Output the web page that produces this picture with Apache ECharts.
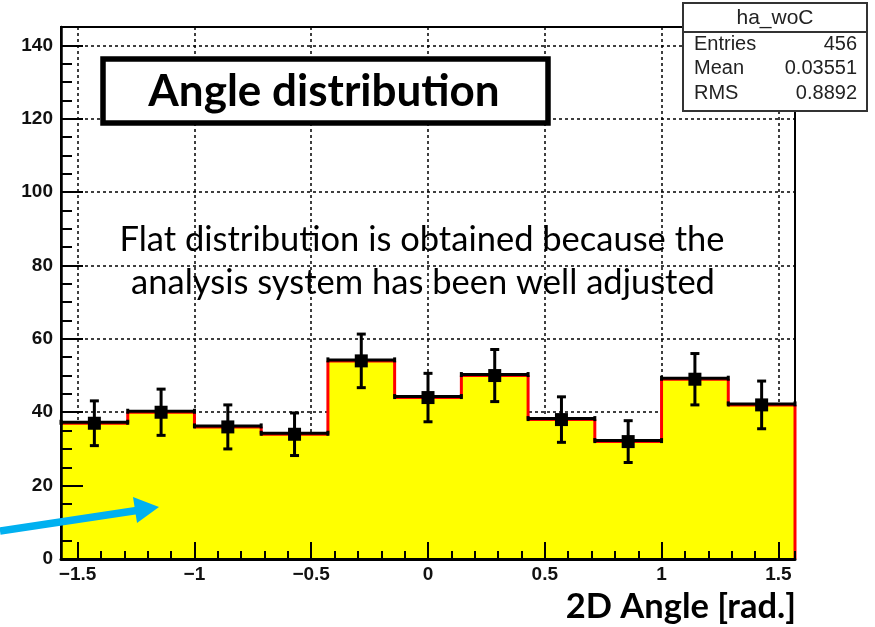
<!DOCTYPE html>
<html><head><meta charset="utf-8">
<script src="https://cdn.jsdelivr.net/npm/echarts@6/dist/echarts.min.js"></script>
<style>html,body{margin:0;padding:0;background:#fff}#c{width:875px;height:627px}</style>
</head><body><div id="c"></div>
<script>
// ---- data ----
const binEdges = [-1.5708, -1.2852, -0.9996, -0.7140, -0.4284, -0.1428, 0.1428, 0.4284, 0.7140, 0.9996, 1.2852, 1.5708];
const counts   = [37, 40, 36, 34, 54, 44, 50, 38, 32, 49, 42];
const errors   = [6.1, 6.3, 6.0, 5.8, 7.3, 6.6, 7.1, 6.2, 5.7, 7.0, 6.5];
const xMin = -1.5708, xMax = 1.5708;
const yMin = 0, yMax = 145, yMajor = 20, yMinor = 5;
const statsTitle = 'ha_woC';
const statsLabels = ['Entries', 'Mean', 'RMS'];
const statsValues = ['456', '0.03551', '0.8892'];
const boxTitle = 'Angle distribution';
const noteLines = ['Flat distribution is obtained because the', 'analysis system has been well adjusted'];
const xTitle = '2D Angle [rad.]';

// ---- build series data ----
const stepData = [];
for (let i = 0; i < counts.length; i++) stepData.push([binEdges[i], counts[i]]);
stepData.push([binEdges[counts.length], counts[counts.length - 1]]);
stepData.push([binEdges[counts.length], 0]);

const errData = counts.map((v, i) => [(binEdges[i] + binEdges[i + 1]) / 2, v, errors[i], binEdges[i], binEdges[i + 1]]);

function renderErr(params, api) {
  const xc = api.value(0), y = api.value(1), e = api.value(2), lo = api.value(3), hi = api.value(4);
  const pC = api.coord([xc, y]);
  const pL = api.coord([lo, y]);
  const pH = api.coord([hi, y]);
  const pT = api.coord([xc, y + e]);
  const pB = api.coord([xc, y - e]);
  const st = { stroke: '#000', lineWidth: 3 };
  const yy = pC[1] - 1;
  return {
    type: 'group', children: [
      { type: 'line', shape: { x1: pL[0], y1: yy, x2: pH[0], y2: yy }, style: st },
      { type: 'line', shape: { x1: pL[0], y1: yy - 2.5, x2: pL[0], y2: yy + 2.5 }, style: st },
      { type: 'line', shape: { x1: pH[0], y1: yy - 2.5, x2: pH[0], y2: yy + 2.5 }, style: st },
      { type: 'line', shape: { x1: pC[0], y1: pT[1], x2: pC[0], y2: pB[1] }, style: st },
      { type: 'line', shape: { x1: pC[0] - 4.5, y1: pT[1], x2: pC[0] + 4.5, y2: pT[1] }, style: st },
      { type: 'line', shape: { x1: pC[0] - 4.5, y1: pB[1], x2: pC[0] + 4.5, y2: pB[1] }, style: st },
      { type: 'rect', shape: { x: pC[0] - 6.5, y: pC[1] - 6.5, width: 13, height: 13 }, style: { fill: '#000' } }
    ]
  };
}

const minus = v => String(v).replace('-', '\u2212');
const labelFont = { fontFamily: 'Liberation Sans', fontSize: 19, fontWeight: 'bold', color: '#111' };
const gridDash = { color: '#000', width: 1.5, type: [3, 3] };
const hiddenLine = { show: false, onZero: false };

const chart = echarts.init(document.getElementById('c'), null, { renderer: 'canvas' });
chart.setOption({
  animation: false,
  backgroundColor: '#fff',
  grid: { left: 61, right: 80, top: 27, bottom: 68, show: true, borderColor: '#000', borderWidth: 2, backgroundColor: 'transparent' },
  xAxis: [
    { // major ticks + labels
      type: 'value', min: xMin, max: xMax, splitNumber: 6, position: 'bottom', z: 10,
      axisLine: { show: true, onZero: false, lineStyle: { color: '#000', width: 3 } },
      axisTick: { show: true, inside: true, length: 17, lineStyle: { color: '#000', width: 2 } },
      axisLabel: { show: true, margin: 6, showMinLabel: false, showMaxLabel: false, formatter: minus, ...labelFont },
      splitLine: { show: false }
    },
    { // minor ticks
      type: 'value', min: xMin, max: xMax, splitNumber: 31, position: 'bottom', z: 10,
      axisLine: hiddenLine, axisLabel: { show: false }, splitLine: { show: false },
      axisTick: { show: true, inside: true, length: 8, lineStyle: { color: '#000', width: 2 } }
    },
    { // grid lines
      type: 'value', min: xMin, max: xMax, splitNumber: 6, position: 'bottom', z: 0,
      axisLine: hiddenLine, axisLabel: { show: false }, axisTick: { show: false },
      splitLine: { show: true, lineStyle: gridDash }
    }
  ],
  yAxis: [
    {
      type: 'value', min: yMin, max: yMax, interval: yMajor, position: 'left', z: 10,
      axisLine: { show: true, onZero: false, lineStyle: { color: '#000', width: 2.5 } },
      axisTick: { show: true, inside: true, length: 22, lineStyle: { color: '#000', width: 2 } },
      axisLabel: { show: true, margin: 8, showMaxLabel: false, ...labelFont },
      splitLine: { show: false }
    },
    {
      type: 'value', min: yMin, max: yMax, interval: yMinor, position: 'left', z: 10,
      axisLine: hiddenLine, axisLabel: { show: false }, splitLine: { show: false },
      axisTick: { show: true, inside: true, length: 11, lineStyle: { color: '#000', width: 2 } }
    },
    {
      type: 'value', min: yMin, max: yMax, interval: yMajor, position: 'left', z: 0,
      axisLine: hiddenLine, axisLabel: { show: false }, axisTick: { show: false },
      splitLine: { show: true, lineStyle: gridDash }
    }
  ],
  series: [
    {
      type: 'line', xAxisIndex: 0, yAxisIndex: 0, data: stepData, step: 'end',
      symbol: 'none', z: 2,
      lineStyle: { color: '#ff0000', width: 3 },
      areaStyle: { color: '#ffff00', opacity: 1, origin: 'start' }
    },
    {
      type: 'custom', xAxisIndex: 0, yAxisIndex: 0, data: errData, renderItem: renderErr, z: 3,
      encode: { x: 0, y: 1 }
    }
  ],
  graphic: [
    // blue arrow
    { type: 'line', z: 100, shape: { x1: 0, y1: 531, x2: 140, y2: 510 }, style: { stroke: '#00b0f0', lineWidth: 7.5 } },
    { type: 'polygon', z: 100, shape: { points: [[159, 507], [133, 497], [137, 523]] }, style: { fill: '#00b0f0' } },
    // title box
    { type: 'rect', z: 100, shape: { x: 103, y: 59, width: 445, height: 64 }, style: { fill: '#fff', stroke: '#000', lineWidth: 5.5 } },
    { type: 'text', z: 101, x: 324, y: 92, style: { text: boxTitle, font: 'bold 44px Lato', fill: '#000', align: 'center', verticalAlign: 'middle', textAlign: 'center', textVerticalAlign: 'middle' } },
    // note
    { type: 'text', z: 101, x: 422, y: 240, style: { text: noteLines[0], font: '34.5px Lato', fill: '#000', align: 'center', verticalAlign: 'middle', textAlign: 'center', textVerticalAlign: 'middle' } },
    { type: 'text', z: 101, x: 423, y: 283, style: { text: noteLines[1], font: '34.5px Lato', fill: '#000', align: 'center', verticalAlign: 'middle', textAlign: 'center', textVerticalAlign: 'middle' } },
    // stats box
    { type: 'rect', z: 100, shape: { x: 683, y: 3, width: 184, height: 108 }, style: { fill: '#fff', stroke: '#333', lineWidth: 2 } },
    { type: 'line', z: 101, shape: { x1: 683, y1: 32, x2: 867, y2: 32 }, style: { stroke: '#333', lineWidth: 2 } },
    { type: 'text', z: 101, x: 775, y: 18, style: { text: statsTitle, font: '21px "Liberation Sans"', fill: '#222', align: 'center', verticalAlign: 'middle', textAlign: 'center', textVerticalAlign: 'middle' } },
    ...statsLabels.map((t, i) => ({ type: 'text', z: 101, x: 694, y: 44 + i * 24.5, style: { text: t, font: '20px "Liberation Sans"', fill: '#222', align: 'left', verticalAlign: 'middle', textAlign: 'left', textVerticalAlign: 'middle' } })),
    ...statsValues.map((t, i) => ({ type: 'text', z: 101, x: 857, y: 44 + i * 24.5, style: { text: t, font: '20px "Liberation Sans"', fill: '#222', align: 'right', verticalAlign: 'middle', textAlign: 'right', textVerticalAlign: 'middle' } })),
    // x title
    { type: 'text', z: 101, x: 796, y: 607, style: { text: xTitle, font: 'bold 34.5px Lato', fill: '#000', align: 'right', verticalAlign: 'middle', textAlign: 'right', textVerticalAlign: 'middle' } }
  ]
});
</script>
</body></html>
